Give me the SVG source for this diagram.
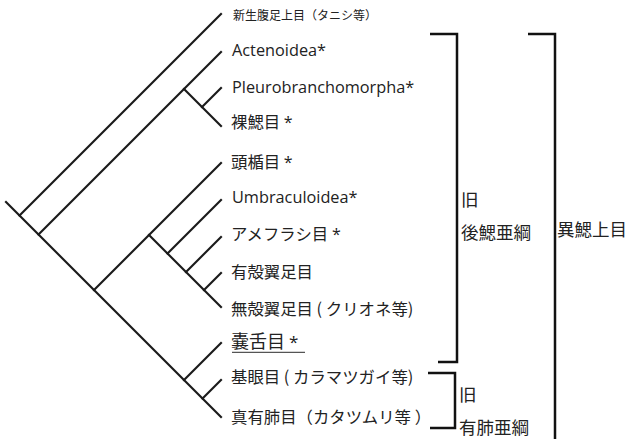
<svg xmlns="http://www.w3.org/2000/svg" width="630" height="439" viewBox="0 0 630 439">
<style>
.t{stroke:#1a1a1a;stroke-width:2.1;fill:none;stroke-linecap:square}
.b{stroke:#111;stroke-width:2.5;fill:none}
text{fill:#222;font-family:"Open Sans","Noto Sans CJK JP",sans-serif}
.la{font-size:16.3px}
.jp{font-size:16.4px;font-family:"Noto Sans CJK JP",sans-serif}
.gl{font-size:17.5px;font-family:"Noto Sans CJK JP",sans-serif}
.ast{font-family:"Open Sans",sans-serif;font-size:16px}
</style>
<rect width="630" height="439" fill="#fff"/>
<g id="connectors">
<line class="t" x1="6" y1="202" x2="221" y2="417"/>
<line class="t" x1="19.5" y1="215.5" x2="221" y2="14"/>
<line class="t" x1="38.5" y1="234.5" x2="221" y2="52"/>
<line class="t" x1="184" y1="89" x2="221" y2="126"/>
<line class="t" x1="202" y1="107" x2="221" y2="88"/>
<line class="t" x1="94" y1="290" x2="221" y2="163"/>
<line class="t" x1="149" y1="235" x2="221" y2="307"/>
<line class="t" x1="167.5" y1="253.5" x2="221" y2="200"/>
<line class="t" x1="186" y1="272" x2="221" y2="237"/>
<line class="t" x1="204" y1="290" x2="221" y2="273"/>
<line class="t" x1="184" y1="380" x2="221" y2="343"/>
<line class="t" x1="202.5" y1="398.5" x2="221" y2="380"/>
</g>
<g id="n-caenogastropoda"><text x="233" y="20" style="font-size:12px;font-family:'Noto Sans CJK JP',sans-serif">新生腹足上目（タニシ等）</text></g>
<g id="n-actenoidea"><text class="la" x="232" y="56">Actenoidea*</text></g>
<g id="n-pleurobranchomorpha"><text class="la" x="232" y="93">Pleurobranchomorpha*</text></g>
<g id="n-nudibranchia"><text class="jp" x="231" y="127.5">裸鰓目 <tspan class="ast">*</tspan></text></g>
<g id="n-cephalaspidea"><text class="jp" x="231" y="167.5">頭楯目 <tspan class="ast">*</tspan></text></g>
<g id="n-umbraculoidea"><text class="la" x="232" y="203">Umbraculoidea*</text></g>
<g id="n-aplysiida"><text class="jp" x="231" y="239.5">アメフラシ目 <tspan class="ast">*</tspan></text></g>
<g id="n-thecosomata"><text class="jp" x="231" y="277.5">有殻翼足目</text></g>
<g id="n-gymnosomata"><text class="jp" x="231" y="314.5">無殻翼足目 ( クリオネ等)</text></g>
<g id="n-sacoglossa"><text x="231" y="348" style="font-size:18px;font-family:'Noto Sans CJK JP',sans-serif">嚢舌目 <tspan class="ast" style="font-size:17px">*</tspan></text><line x1="232" y1="352.3" x2="305" y2="352.3" stroke="#555" stroke-width="1.3"/></g>
<g id="n-basommatophora"><text class="jp" x="231" y="382.5">基眼目 ( カラマツガイ等)</text></g>
<g id="n-eupulmonata"><text class="jp" x="231" y="422.5">真有肺目（カタツムリ等 ）</text></g>
<g id="bracket-opisthobranchia"><path class="b" d="M430,34 H457 V362 H438"/><text class="gl" x="461" y="206">旧</text><text class="gl" x="461" y="238.5">後鰓亜綱</text></g>
<g id="bracket-pulmonata"><path class="b" d="M428,373 H455 V428 H430"/><text class="gl" x="459" y="401">旧</text><text class="gl" x="459" y="433.5">有肺亜綱</text></g>
<g id="bracket-heterobranchia"><path class="b" d="M528,34 H555 V440"/><text class="gl" x="557" y="235.5">異鰓上目</text></g>
</svg>
